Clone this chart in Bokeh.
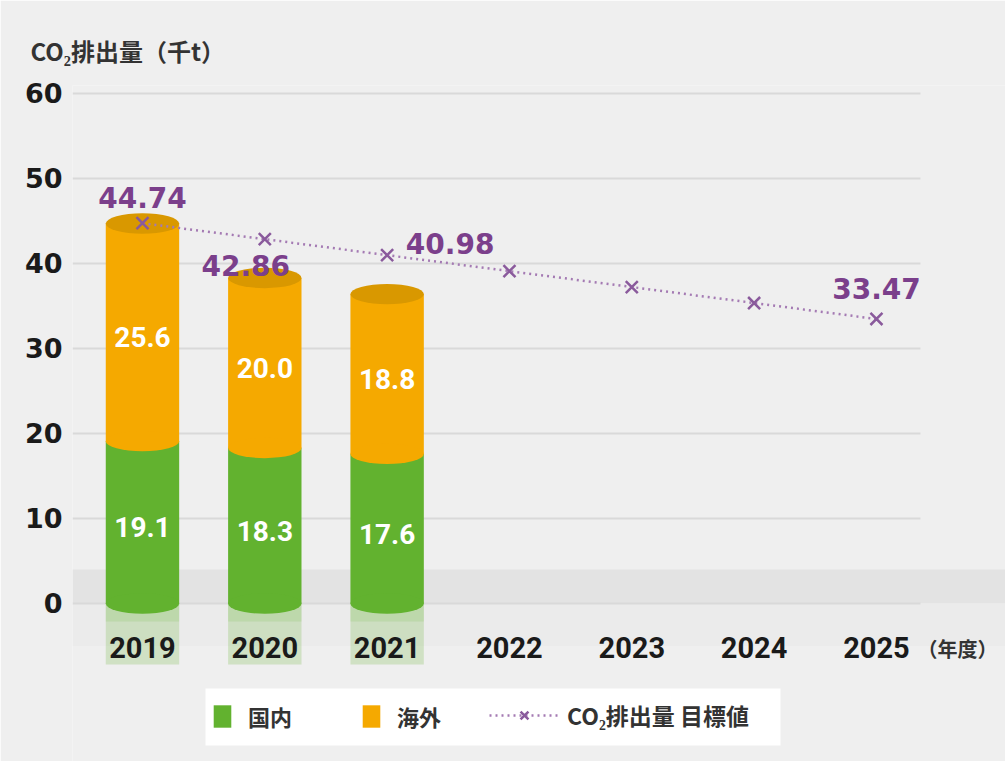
from bokeh.plotting import figure
from bokeh.models import Range1d, FixedTicker, Label, Legend, LegendItem, BoxAnnotation
from bokeh.core.properties import value
from bokeh.embed import file_html
from bokeh.resources import INLINE

# ---- data ----
years = [2019, 2020, 2021, 2022, 2023, 2024, 2025]
bar_years = [2019, 2020, 2021]
domestic = [19.1, 18.3, 17.6]
overseas = [25.6, 20.0, 18.8]
target = [44.74, 42.86, 40.98, 39.10, 37.23, 35.35, 33.47]
target_label_years = [2019, 2020, 2021, 2025]
target_label_values = [44.74, 42.86, 40.98, 33.47]
y_ticks = [0, 10, 20, 30, 40, 50, 60]
series_names = ["国内", "海外", "CO₂排出量 目標値"]
y_title = "CO₂排出量（千t）"
x_unit = "（年度）"

# ---- style ----
GREEN = "#62b22f"
ORANGE = "#f5a900"
ORANGE_TOP = "#d99800"
PURPLE = "#7b3f8b"
PURPLE_LINE = "#a47ab3"
BG = "#efefef"
BAR_W = 0.60
ELL_H = 2.4
GRID_END = 2025.36
X_AXIS_AT = -7.6

total = [d + o for d, o in zip(domestic, overseas)]
dom_mid = [d / 2 for d in domestic]
ovs_mid = [d + o / 2 for d, o in zip(domestic, overseas)]

p = figure(width=1005, height=761,
           x_range=Range1d(2018.428, 2026.055), y_range=Range1d(-18.59, 60.94),
           x_axis_location="above",
           output_backend="svg", toolbar_location=None,
           min_border_left=72, min_border_right=0, min_border_top=85, min_border_bottom=0,
           background_fill_color=BG, border_fill_color=BG, outline_line_color=None)

# title (y-axis caption)
p.title.text = y_title
p.title.align = "left"
p.title.offset = -42
p.title.standoff = 36
p.title.text_font = "Noto Sans CJK JP"
p.title.text_font_style = "bold"
p.title.text_font_size = "24px"
p.title.text_color = "#333333"

# floor band and area just below the base
p.add_layout(BoxAnnotation(bottom=0, top=4, fill_color="#e3e3e3", fill_alpha=1,
                           line_color=None, level="image"))
p.add_layout(BoxAnnotation(top=0, bottom=-5, fill_color="#ebebeb", fill_alpha=1,
                           line_color=None, level="image"))

# grid (stops before the right margin)
p.xgrid.visible = False
p.ygrid.visible = False
p.segment(x0=[p.x_range.start] * len(y_ticks), x1=[GRID_END] * len(y_ticks),
          y0=y_ticks, y1=y_ticks, line_color="#d9d9d9", line_width=2, level="underlay")

# reflections under bars
for yr in bar_years:
    p.add_layout(BoxAnnotation(left=yr - BAR_W / 2, right=yr + BAR_W / 2, top=0, bottom=97,
                               bottom_units="screen", fill_color=GREEN, fill_alpha=0.22,
                               line_color=None, level="underlay"))
    p.add_layout(BoxAnnotation(left=yr - BAR_W / 2, right=yr + BAR_W / 2, top=0, bottom=140,
                               bottom_units="screen", fill_color=GREEN, fill_alpha=0.15,
                               line_color=None, level="underlay"))

# axes
p.yaxis.ticker = FixedTicker(ticks=y_ticks)
p.xaxis.ticker = FixedTicker(ticks=years)
p.xaxis.fixed_location = X_AXIS_AT
for ax in (p.xaxis[0], p.yaxis[0]):
    ax.axis_line_color = None
    ax.major_tick_line_color = None
    ax.minor_tick_line_color = None
    ax.major_label_text_font_style = "bold"
    ax.major_label_text_color = "#1a1a1a"
p.yaxis.major_label_text_font = "DejaVu Sans"
p.yaxis.major_label_text_font_size = "27px"
p.yaxis.major_label_standoff = 4
p.xaxis.major_label_text_font = "Roboto"
p.xaxis.major_label_text_font_size = "29px"
p.xaxis.major_label_standoff = 4

# bars (cylinders)
g_bar = p.vbar(x=bar_years, width=BAR_W, bottom=0, top=domestic, fill_color=GREEN, line_color=None)
p.ellipse(x=bar_years, y=[0] * len(bar_years), width=BAR_W, height=ELL_H, fill_color=GREEN, line_color=None)
o_bar = p.vbar(x=bar_years, width=BAR_W, bottom=domestic, top=total, fill_color=ORANGE, line_color=None)
p.ellipse(x=bar_years, y=domestic, width=BAR_W, height=ELL_H, fill_color=ORANGE, line_color=None)
p.ellipse(x=bar_years, y=total, width=BAR_W, height=ELL_H, fill_color=ORANGE_TOP, line_color=None)

# bar value labels
p.text(x=bar_years, y=dom_mid, text=[f"{v:.1f}" for v in domestic], text_color="white",
       text_font=value("Roboto"), text_font_style="bold", text_font_size="28px",
       text_align="center", text_baseline="middle", y_offset=5)
p.text(x=bar_years, y=ovs_mid, text=[f"{v:.1f}" for v in overseas], text_color="white",
       text_font=value("Roboto"), text_font_style="bold", text_font_size="28px",
       text_align="center", text_baseline="middle", y_offset=5)

# target line
t_line = p.line(x=years, y=target, line_color=PURPLE_LINE, line_width=2.5, line_dash="2 4")
t_pts = p.scatter(x=years, y=target, marker="x", size=17, line_color="#8a5a9c", line_width=2.5)

lab_dx = [0, -19, 63, 0]
lab_dy = [-26, 26, -12, -30]
p.text(x=target_label_years, y=target_label_values, text=[f"{v:.2f}" for v in target_label_values],
       x_offset=lab_dx, y_offset=lab_dy, text_color=PURPLE,
       text_font=value("DejaVu Sans"), text_font_style="bold", text_font_size="28px",
       text_align="center", text_baseline="middle")

# unit label after the last year
p.add_layout(Label(x=845, y=113, x_units="screen", y_units="screen", text=x_unit,
                   text_font="Noto Sans CJK JP", text_font_style="bold", text_font_size="20px",
                   text_color="#333333", text_baseline="middle"))

# legend box
p.add_layout(BoxAnnotation(left=133, right=708, bottom=16, top=73,
                           left_units="screen", right_units="screen",
                           top_units="screen", bottom_units="screen",
                           fill_color="white", fill_alpha=1, line_color=None, level="guide"))

leg_common = dict(orientation="horizontal", background_fill_alpha=0, border_line_color=None,
                  label_text_font="Noto Sans CJK JP", label_text_font_style="bold",
                  label_text_color="#333333",
                  glyph_height=28, label_height=28, padding=14, margin=0)
leg1 = Legend(items=[LegendItem(label=series_names[0], renderers=[g_bar]),
                     LegendItem(label=series_names[1], renderers=[o_bar])],
              location=(139, 29), glyph_width=22, label_standoff=15, spacing=68,
              label_text_font_size="22px", **leg_common)
leg2 = Legend(items=[LegendItem(label=series_names[2], renderers=[t_line, t_pts])],
              location=(417, 29), glyph_width=70, label_standoff=8,
              label_text_font_size="23px", **leg_common)
p.add_layout(leg1)
p.add_layout(leg2)

open("out.html", "w").write(file_html(p, INLINE))
